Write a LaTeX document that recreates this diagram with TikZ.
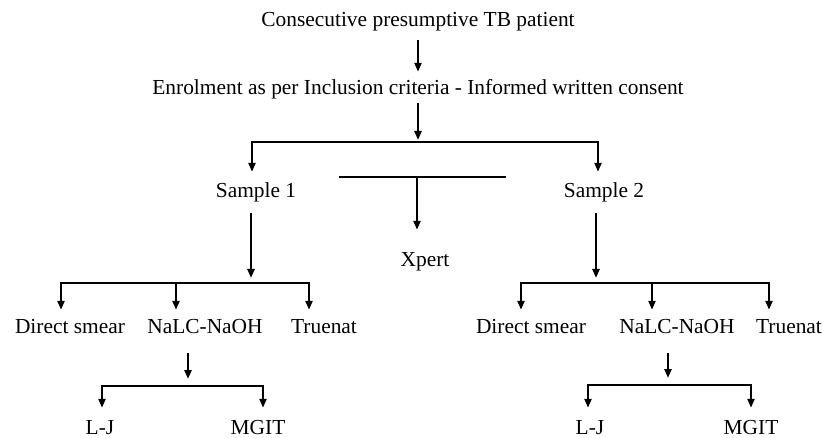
\documentclass[tikz,border=0pt]{standalone}
\usepackage{fontspec}
\setmainfont{Liberation Serif}
\usetikzlibrary{arrows.meta}

\begin{document}
\begin{tikzpicture}[x=1pt, y=-1pt,
lbl/.style = {% step labels
    anchor=base, inner sep=0pt, text height=14pt, text depth=4pt,
    font=\fontsize{21.4pt}{24pt}\selectfont,
            },
arr/.style = {line width=2.8pt, -{Triangle[length=9pt,width=7pt]}},
brk/.style = {line width=2.8pt,
    {Triangle[length=9pt,width=7pt]}-{Triangle[length=9pt,width=7pt]}},
bar/.style = {line width=2.8pt},
                        ]
  \useasboundingbox (0,0) rectangle (822,438);

  % steps
  \node[lbl] (tb)    at (418,27)  {Consecutive presumptive TB patient};
  \node[lbl] (enrol) at (418,95)  {Enrolment as per Inclusion criteria - Informed written consent};
  \node[lbl] (s1)    at (256,198) {Sample 1};
  \node[lbl] (s2)    at (604,198) {Sample 2};
  \node[lbl] (xpert) at (425,267) {Xpert};

  \node[lbl] (ds1)   at (70,334)  {Direct smear};
  \node[lbl] (nalc1) at (205,334) {NaLC-NaOH};
  \node[lbl] (tru1)  at (324,334) {Truenat};
  \node[lbl] (ds2)   at (531,334) {Direct smear};
  \node[lbl] (nalc2) at (677,334) {NaLC-NaOH};
  \node[lbl] (tru2)  at (789,334) {Truenat};

  \node[lbl] (lj1)   at (100,434) {L-J};
  \node[lbl] (mgit1) at (258,434) {MGIT};
  \node[lbl] (lj2)   at (590,434) {L-J};
  \node[lbl] (mgit2) at (751,434) {MGIT};

  % branch bars
  \coordinate (j0a) at (252,142); \coordinate (j0) at (418,142); \coordinate (j0b) at (598,142);
  \coordinate (xa)  at (339,177); \coordinate (xm) at (417,177); \coordinate (xb)  at (506,177);
  \coordinate (j1a) at (61,283);  \coordinate (j1) at (251,283); \coordinate (j1m) at (176,283);
  \coordinate (j1b) at (309,283);
  \coordinate (j2a) at (521,283); \coordinate (j2) at (596,283); \coordinate (j2m) at (652,283);
  \coordinate (j2b) at (769,283);
  \coordinate (j3a) at (102,386); \coordinate (j3) at (188,386); \coordinate (j3b) at (263,386);
  \coordinate (j4a) at (588,385); \coordinate (j4) at (668,385); \coordinate (j4b) at (751,385);

  % top
  \draw[arr, shorten <=9pt, shorten >=9pt] (tb) -- (enrol);
  \draw[arr, shorten <=4pt, shorten >=2pt] (enrol) -- (j0);
  \draw[brk, shorten <=12pt, shorten >=12pt]
      (j0a |- s1.north) -- (j0a) -- (j0b) -- (j0b |- s2.north);

  % xpert
  \draw[bar] (xa) -- (xb);
  \draw[arr, shorten >=23pt] (xm) -- (xm |- xpert.north);

  % sample 1
  \draw[arr, shorten <=11pt, shorten >=5pt] (s1.south -| j1) -- (j1);
  \draw[brk, shorten <=10pt, shorten >=10pt]
      (j1a |- ds1.north) -- (j1a) -- (j1b) -- (j1b |- tru1.north);
  \draw[arr, shorten >=10pt] (j1m) -- (j1m |- nalc1.north);
  \draw[arr, shorten <=15pt, shorten >=7pt] (nalc1.south -| j3) -- (j3);
  \draw[brk, shorten <=12pt, shorten >=12pt]
      (j3a |- lj1.north) -- (j3a) -- (j3b) -- (j3b |- mgit1.north);

  % sample 2
  \draw[arr, shorten <=11pt, shorten >=5pt] (s2.south -| j2) -- (j2);
  \draw[brk, shorten <=10pt, shorten >=10pt]
      (j2a |- ds2.north) -- (j2a) -- (j2b) -- (j2b |- tru2.north);
  \draw[arr, shorten >=10pt] (j2m) -- (j2m |- nalc2.north);
  \draw[arr, shorten <=15pt, shorten >=7pt] (nalc2.south -| j4) -- (j4);
  \draw[brk, shorten <=12pt, shorten >=12pt]
      (j4a |- lj2.north) -- (j4a) -- (j4b) -- (j4b |- mgit2.north);

\end{tikzpicture}
\end{document}
